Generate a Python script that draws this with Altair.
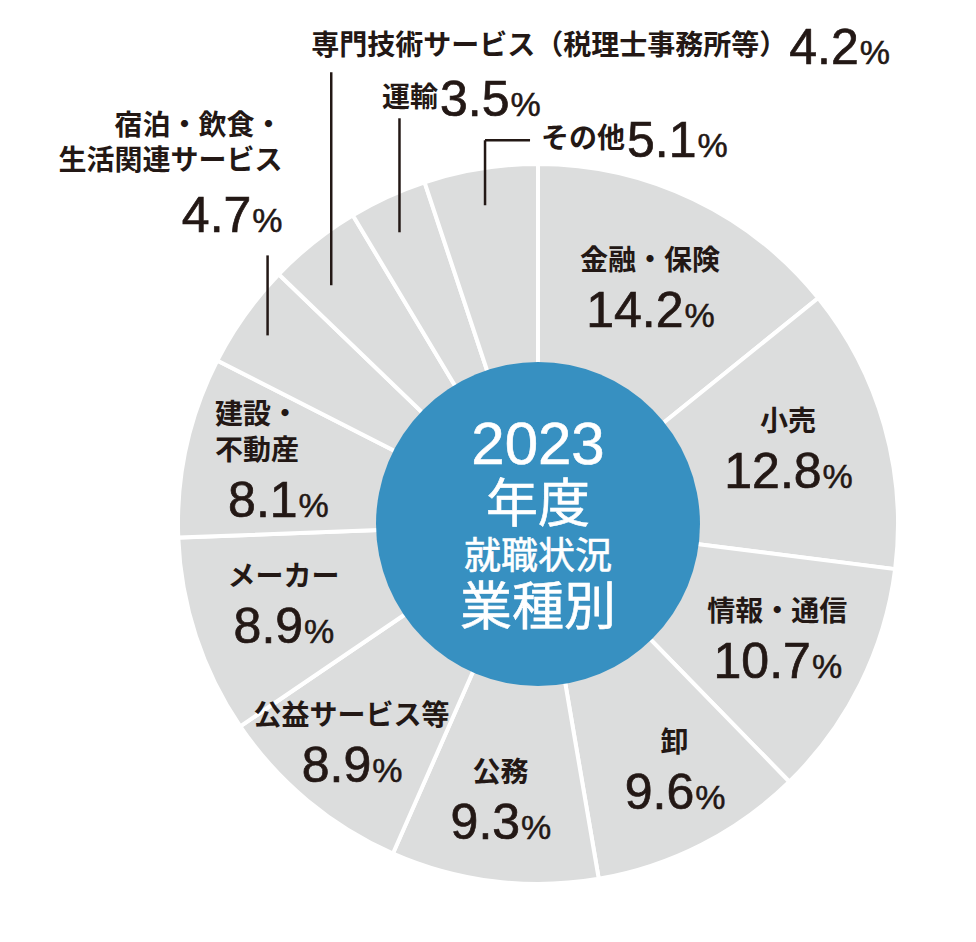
import altair as alt
import pandas as pd

# ---------------- data ----------------
CATEGORIES = ["金融・保険", "小売", "情報・通信", "卸", "公務", "公益サービス等", "メーカー",
              "建設・不動産", "宿泊・飲食・生活関連サービス",
              "専門技術サービス（税理士事務所等）", "運輸", "その他"]
SHARES = [14.2, 12.8, 10.7, 9.6, 9.3, 8.9, 8.9, 8.1, 4.7, 4.2, 3.5, 5.1]
LABELS = ["金融・保険", "小売", "情報・通信", "卸", "公務", "公益サービス等", "メーカー",
          "建設・\n不動産", "宿泊・飲食・\n生活関連サービス",
          "専門技術サービス（税理士事務所等）", "運輸", "その他"]
CENTER_LINES = ["2023", "年度", "就職状況", "業種別"]

# ---------------- layout / style ----------------
W, H = 960, 926
CX, CY = 530, 516
R_OUT, R_IN = 360, 162
R_LEAD = 332
GRAY, BLUE, INK = "#dcdddd", "#3790c1", "#231815"
FONT = "Liberation Sans, Noto Sans CJK JP"
JP = "Noto Sans CJK JP"
NAME_FS, NUM_FS, PCT_FS = 28, 50, 34
WP = 0.889 * PCT_FS
LH = 36

INNER = {  # label radius, group x nudge, group y nudge, name x shift
    "金融・保険": (263, -1.5, -2, 0), "小売": (262, -2, -6, 0), "情報・通信": (264, 3, -6, 0),
    "卸": (280, 9.5, -6.5, 0), "公務": (277, -3.7, -2, 0), "公益サービス等": (286, -3.4, -4, 0),
    "メーカー": (266, -1.8, -6, 0), "建設・不動産": (268, 1.7, 8.5, -21),
}
OUTER = {  # leader rise, leader extension below, text dx, text dy, hook length, text align
    "宿泊・飲食・生活関連サービス": (76, 4, 15, -40, 0, "right"),
    "専門技術サービス（税理士事務所等）": (192, 21, -20, -27, 0, "left"),
    "運輸": (104, 10, -17.5, -21, 0, "left"),
    "その他": (56, 9, 56, -2, 45, "left"),
}
CENTER_STYLE = [(60, -78), (52, -18), (37, 34), (52, 85)]

rows = []
for i, (c, s, l) in enumerate(zip(CATEGORIES, SHARES, LABELS)):
    r = dict(idx=i, cat=c, share=s, label=l, kind="in", lr=0, gdx=0, gdy=0, ndx=0,
             rise=0, ext=0, tdx=0, tdy=0, hook=0, talign="")
    if c in INNER:
        r["lr"], r["gdx"], r["gdy"], r["ndx"] = INNER[c]
    else:
        r["kind"] = "out"
        r["rise"], r["ext"], r["tdx"], r["tdy"], r["hook"], r["talign"] = OUTER[c]
    rows.append(r)
df = pd.DataFrame(rows)

X = lambda f: alt.X(f, scale=None, axis=None)
Y = lambda f: alt.Y(f, scale=None, axis=None)

arcs = alt.Chart(df).mark_arc(outerRadius=R_OUT, innerRadius=0, color=GRAY,
                              stroke="white", strokeWidth=4).encode(
    theta=alt.Theta("share:Q", stack=True),
    order=alt.Order("idx:Q", sort="ascending"),
    x=alt.value(CX), y=alt.value(CY),
)

disc = alt.Chart(pd.DataFrame({"d": [1]})).mark_arc(
    outerRadius=R_IN, theta=0, theta2=6.2832, color=BLUE
).encode(x=alt.value(CX), y=alt.value(CY))

base = alt.Chart(df).transform_window(
    cum="sum(share)", sort=[alt.SortField("idx", order="ascending")], frame=[None, 0]
).transform_joinaggregate(total="sum(share)").transform_calculate(
    mid="2*PI*(datum.cum - datum.share/2)/datum.total",
    num="format(datum.share, '.1f')",
).transform_calculate(
    wd=f"{NUM_FS}*(0.556*(length(datum.num)-1) + 0.278)",
    nl="length(split(datum.label, '\\n'))",
)

# ---- inner labels ----
inner = base.transform_filter("datum.kind == 'in'").transform_calculate(
    gx=f"{CX} + datum.lr*sin(datum.mid) + datum.gdx",
    gy=f"{CY} - datum.lr*cos(datum.mid) + datum.gdy",
).transform_calculate(
    nx="datum.gx + datum.ndx",
    ny=f"datum.gy - 23 - (datum.nl-1)*{LH}",
    px=f"datum.gx - (datum.wd + {WP})/2 + datum.wd",
    py="datum.gy + 42",
).transform_calculate(px2="datum.px + 1")

in_name = inner.mark_text(font=JP, fontSize=NAME_FS, fontWeight="bold", color=INK,
                          lineBreak="\n", lineHeight=LH, baseline="middle", align="center").encode(
    x=X("nx:Q"), y=Y("ny:Q"), text="label:N")
in_num = inner.mark_text(font=FONT, fontSize=NUM_FS, color=INK, stroke=INK, strokeWidth=0.7,
                         align="right", baseline="alphabetic").encode(
    x=X("px:Q"), y=Y("py:Q"), text="num:N")
in_pct = inner.mark_text(font=FONT, fontSize=PCT_FS, color=INK, stroke=INK, strokeWidth=0.5,
                         align="left", baseline="alphabetic", text="%").encode(
    x=X("px2:Q"), y=Y("py:Q"))

# ---- outer labels with leader lines ----
outer = base.transform_filter("datum.kind == 'out'").transform_calculate(
    sx=f"{CX} + {R_LEAD}*sin(datum.mid)",
    sy=f"{CY} - {R_LEAD}*cos(datum.mid)",
).transform_calculate(
    boty="datum.sy + datum.ext",
    topy="datum.sy - datum.rise",
    hx="datum.sx + datum.hook",
    tx="datum.sx + datum.tdx",
    ty="datum.sy - datum.rise + datum.tdy",
)

lead = outer.mark_rule(color=INK, strokeWidth=2.5).encode(
    x=X("sx:Q"), y=Y("boty:Q"), y2="topy:Q")
hook = outer.transform_filter("datum.hook > 0").mark_rule(color=INK, strokeWidth=2.5).encode(
    x=X("sx:Q"), x2="hx:Q", y=Y("topy:Q"))

left = outer.transform_filter("datum.talign == 'left'").transform_calculate(
    nby="datum.ty + 10",
    dx0=f"datum.tx + {NAME_FS}*length(datum.label) + 2",
    dby="datum.ty + 19",
).transform_calculate(pxl="datum.dx0 + datum.wd + 1")
l_name = left.mark_text(font=JP, fontSize=NAME_FS, fontWeight="bold", color=INK, align="left",
                        baseline="alphabetic").encode(x=X("tx:Q"), y=Y("nby:Q"), text="label:N")
l_num = left.mark_text(font=FONT, fontSize=NUM_FS, color=INK, stroke=INK, strokeWidth=0.7,
                       align="left", baseline="alphabetic").encode(
    x=X("dx0:Q"), y=Y("dby:Q"), text="num:N")
l_pct = left.mark_text(font=FONT, fontSize=PCT_FS, color=INK, stroke=INK, strokeWidth=0.5,
                       align="left", baseline="alphabetic", text="%").encode(
    x=X("pxl:Q"), y=Y("dby:Q"))

right = outer.transform_filter("datum.talign == 'right'").transform_calculate(
    nmy=f"datum.ty - 52 - (datum.nl-1)*{LH}",
    dby="datum.ty + 17",
    rx=f"datum.tx - {WP} - 1",
)
r_name = right.mark_text(font=JP, fontSize=NAME_FS, fontWeight="bold", color=INK, align="right",
                         lineBreak="\n", lineHeight=LH - 1, baseline="middle").encode(
    x=X("tx:Q"), y=Y("nmy:Q"), text="label:N")
r_num = right.mark_text(font=FONT, fontSize=NUM_FS, color=INK, stroke=INK, strokeWidth=0.7,
                        align="right", baseline="alphabetic").encode(
    x=X("rx:Q"), y=Y("dby:Q"), text="num:N")
r_pct = right.mark_text(font=FONT, fontSize=PCT_FS, color=INK, stroke=INK, strokeWidth=0.5,
                        align="right", baseline="alphabetic", text="%").encode(
    x=X("tx:Q"), y=Y("dby:Q"))

# ---- centre title ----
center_layers = []
for line, (fs, dy) in zip(CENTER_LINES, CENTER_STYLE):
    center_layers.append(
        alt.Chart(pd.DataFrame({"t": [line]})).mark_text(
            font=FONT, fontSize=fs, color="white", stroke="white", strokeWidth=0.6,
            align="center", baseline="middle"
        ).encode(text="t:N", x=alt.value(CX), y=alt.value(CY + dy))
    )

chart = alt.layer(
    arcs, disc, in_name, in_num, in_pct, lead, hook, l_name, l_num, l_pct,
    r_name, r_num, r_pct, *center_layers
).properties(width=W, height=H, padding=0, autosize="none").configure_view(stroke=None)

chart.save("out.html", embed_options={"renderer": "svg", "actions": False})
